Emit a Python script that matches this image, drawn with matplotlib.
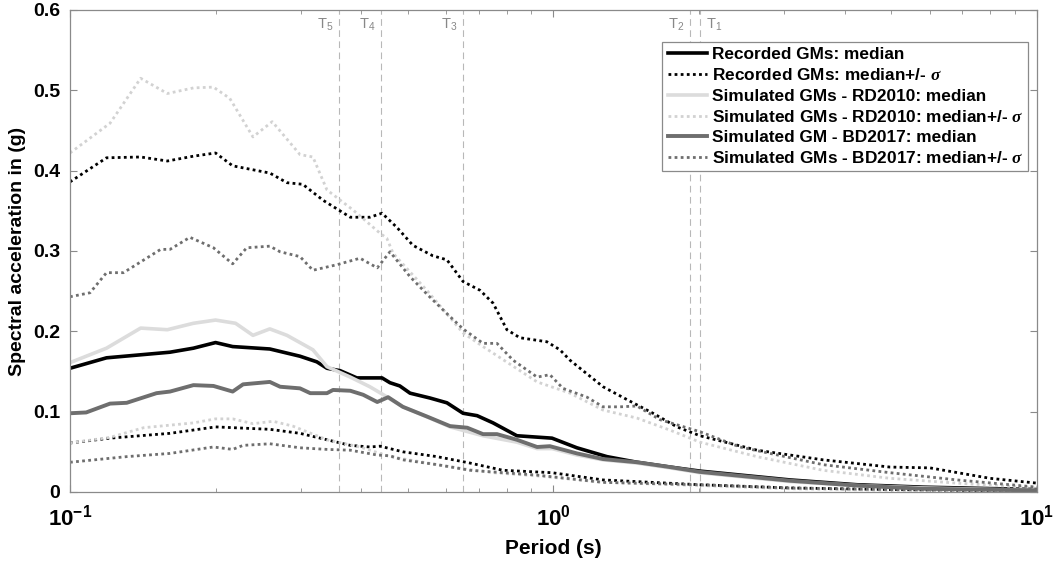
import numpy as np
import matplotlib
matplotlib.use("Agg")
import matplotlib.pyplot as plt
from matplotlib.ticker import FixedLocator, FuncFormatter, LogLocator, NullFormatter

plt.rcParams["font.family"] = ["Liberation Sans", "DejaVu Sans"]
plt.rcParams["font.weight"] = "bold"
plt.rcParams["mathtext.fontset"] = "custom"
plt.rcParams["mathtext.rm"] = "Liberation Sans"
plt.rcParams["mathtext.bf"] = "Liberation Sans:bold"
plt.rcParams["mathtext.it"] = "Liberation Serif:italic"

# recorded ground motions
rec_T = [0.100, 0.119, 0.161, 0.180, 0.200, 0.217, 0.259, 0.299, 0.324, 0.340, 0.362, 0.392,
         0.438, 0.442, 0.459, 0.481, 0.505, 0.555, 0.602, 0.650, 0.695, 0.750, 0.840, 0.993,
         1.118, 1.290, 1.488, 1.742, 2.009, 3.084, 4.244, 5.811, 10.0]
rec_med = [0.154, 0.167, 0.174, 0.179, 0.186, 0.181, 0.178, 0.169, 0.162, 0.154, 0.151, 0.142,
           0.142, 0.142, 0.136, 0.132, 0.123, 0.117, 0.111, 0.098, 0.095, 0.086, 0.070, 0.067,
           0.055, 0.044, 0.037, 0.031, 0.026, 0.015, 0.009, 0.006, 0.003]

rec_up_T = [0.100, 0.119, 0.140, 0.159, 0.180, 0.200, 0.217, 0.259, 0.281, 0.303, 0.334, 0.380,
            0.417, 0.442, 0.475, 0.512, 0.563, 0.602, 0.650, 0.705, 0.750, 0.801, 0.852, 0.969,
            1.031, 1.082, 1.266, 1.419, 1.606, 1.801, 2.009, 2.636, 3.610, 4.966, 6.008, 7.996, 10.0]
rec_up = [0.386, 0.416, 0.417, 0.412, 0.418, 0.422, 0.406, 0.397, 0.385, 0.383, 0.363, 0.342,
          0.342, 0.347, 0.329, 0.307, 0.294, 0.289, 0.262, 0.251, 0.235, 0.202, 0.192, 0.187,
          0.177, 0.164, 0.131, 0.115, 0.098, 0.081, 0.070, 0.052, 0.040, 0.031, 0.030, 0.017, 0.011]

rec_lo_T = [0.100, 0.121, 0.161, 0.200, 0.259, 0.299, 0.340, 0.380, 0.417, 0.438, 0.488, 0.574,
            0.672, 0.786, 0.993, 1.266, 2.009, 3.084, 5.0, 10.0]
rec_lo = [0.061, 0.067, 0.073, 0.081, 0.078, 0.073, 0.065, 0.058, 0.056, 0.057, 0.050, 0.044,
          0.036, 0.027, 0.024, 0.015, 0.009, 0.005, 0.003, 0.001]

# simulated, RD2010
rd_T = [0.100, 0.119, 0.140, 0.159, 0.180, 0.200, 0.220, 0.239, 0.259, 0.281, 0.318, 0.340,
        0.380, 0.417, 0.442, 0.488, 0.555, 0.611, 0.715, 0.840, 0.925, 0.993, 1.118, 1.266,
        1.488, 1.742, 2.009, 3.084, 4.244, 5.811, 10.0]
rd_med = [0.161, 0.179, 0.204, 0.202, 0.210, 0.214, 0.210, 0.195, 0.203, 0.195, 0.177, 0.156,
          0.143, 0.131, 0.122, 0.106, 0.092, 0.081, 0.070, 0.062, 0.054, 0.054, 0.046, 0.040,
          0.036, 0.030, 0.024, 0.013, 0.008, 0.005, 0.002]

rd_up_T = [0.100, 0.121, 0.140, 0.159, 0.180, 0.198, 0.214, 0.239, 0.262, 0.299, 0.318, 0.340,
           0.385, 0.438, 0.452, 0.466, 0.547, 0.650, 0.715, 0.925, 1.082, 1.266, 1.488, 1.742,
           2.009, 2.636, 3.610, 4.966, 6.833, 10.0]
rd_up = [0.422, 0.459, 0.515, 0.496, 0.503, 0.504, 0.490, 0.442, 0.461, 0.420, 0.417, 0.376,
         0.351, 0.322, 0.316, 0.297, 0.251, 0.198, 0.181, 0.137, 0.123, 0.102, 0.092, 0.077,
         0.062, 0.044, 0.027, 0.017, 0.011, 0.005]

rd_lo_T = [0.100, 0.121, 0.142, 0.180, 0.200, 0.217, 0.239, 0.263, 0.289, 0.340, 0.398, 0.459,
           0.550, 0.650, 0.750, 0.925, 1.266, 2.009, 3.084, 5.0, 10.0]
rd_lo = [0.061, 0.068, 0.080, 0.086, 0.091, 0.091, 0.085, 0.088, 0.082, 0.065, 0.056, 0.044,
         0.036, 0.029, 0.024, 0.020, 0.012, 0.008, 0.004, 0.002, 0.001]

# simulated, BD2017
bd_T = [0.100, 0.108, 0.121, 0.131, 0.151, 0.161, 0.180, 0.198, 0.217, 0.228, 0.259, 0.272,
        0.299, 0.314, 0.340, 0.350, 0.380, 0.404, 0.432, 0.455, 0.488, 0.547, 0.611, 0.663,
        0.715, 0.764, 0.840, 0.925, 0.983, 1.118, 1.266, 1.488, 1.742, 2.009, 3.084, 4.244,
        5.811, 10.0]
bd_med = [0.098, 0.099, 0.110, 0.111, 0.123, 0.125, 0.133, 0.132, 0.125, 0.134, 0.137, 0.131,
          0.129, 0.123, 0.123, 0.127, 0.126, 0.121, 0.112, 0.118, 0.106, 0.094, 0.082, 0.080,
          0.072, 0.072, 0.065, 0.056, 0.057, 0.048, 0.041, 0.037, 0.031, 0.025, 0.014, 0.008,
          0.004, 0.002]

bd_up_T = [0.100, 0.110, 0.119, 0.129, 0.154, 0.161, 0.177, 0.198, 0.217, 0.232, 0.259, 0.272,
           0.299, 0.318, 0.357, 0.398, 0.432, 0.459, 0.505, 0.550, 0.602, 0.650, 0.715, 0.764,
           0.825, 0.925, 0.983, 1.046, 1.173, 1.266, 1.372, 1.488, 1.661, 2.009, 2.430, 3.610,
           4.966, 6.833, 10.0]
bd_up = [0.243, 0.248, 0.273, 0.273, 0.302, 0.302, 0.317, 0.304, 0.284, 0.304, 0.306, 0.299,
         0.293, 0.276, 0.283, 0.291, 0.279, 0.299, 0.268, 0.245, 0.222, 0.203, 0.185, 0.185,
         0.164, 0.143, 0.146, 0.129, 0.118, 0.106, 0.106, 0.107, 0.090, 0.075, 0.056, 0.034,
         0.024, 0.015, 0.006]

bd_lo_T = [0.100, 0.131, 0.161, 0.198, 0.217, 0.228, 0.259, 0.299, 0.340, 0.380, 0.432, 0.459,
           0.488, 0.574, 0.672, 0.925, 1.266, 2.009, 3.084, 5.0, 10.0]
bd_lo = [0.037, 0.044, 0.048, 0.056, 0.053, 0.058, 0.060, 0.055, 0.053, 0.052, 0.046, 0.045,
         0.040, 0.034, 0.027, 0.021, 0.012, 0.009, 0.005, 0.003, 0.002]

# modal periods of the structure
mode_T = [2.009, 1.915, 0.650, 0.440, 0.360]
mode_names = ["T_1", "T_2", "T_3", "T_4", "T_5"]

dots = (0, (1, 1.2))
fig = plt.figure(figsize=(10.59, 5.64), dpi=100)
ax = fig.add_axes([0.0661, 0.1277, 0.9131, 0.8546])

for T, name in zip(mode_T, mode_names):
    ax.axvline(T, color="#b8b8b8", lw=0.8, ls=(0, (6, 4)), zorder=1)
    right_side = name == "T_1"
    ax.annotate(r"$\mathregular{%s}$" % name, xy=(T, 0.6), xycoords="data",
                xytext=(4 if right_side else -4, -5), textcoords="offset points",
                ha="left" if right_side else "right", va="top",
                color="#888888", fontsize=10.5, fontweight="normal")

ax.plot(rec_T, rec_med, color="black", lw=2.6, label="Recorded GMs: median")
ax.plot(rec_up_T, rec_up, color="black", lw=2.0, ls=dots,
        label=r"Recorded GMs: median+/- $\sigma$")
ax.plot(rec_lo_T, rec_lo, color="black", lw=2.0, ls=dots)
ax.plot(rd_T, rd_med, color="#dcdcdc", lw=2.6, label="Simulated GMs - RD2010: median")
ax.plot(rd_up_T, rd_up, color="#d2d2d2", lw=2.0, ls=dots,
        label=r"Simulated GMs - RD2010: median+/- $\sigma$")
ax.plot(rd_lo_T, rd_lo, color="#d2d2d2", lw=2.0, ls=dots)
ax.plot(bd_T, bd_med, color="#6e6e6e", lw=2.8, label="Simulated GM - BD2017: median")
ax.plot(bd_up_T, bd_up, color="#6e6e6e", lw=2.0, ls=dots,
        label=r"Simulated GMs - BD2017: median+/- $\sigma$")
ax.plot(bd_lo_T, bd_lo, color="#6e6e6e", lw=2.0, ls=dots)

ax.set_xscale("log")
ax.set_xlim(0.1, 10)
ax.set_ylim(0, 0.6)

ax.xaxis.set_major_locator(FixedLocator([0.1, 1, 10]))
ax.xaxis.set_major_formatter(FuncFormatter(
    lambda v, p: r"$\mathbf{10^{%d}}$" % round(np.log10(v))))
ax.xaxis.set_minor_locator(LogLocator(base=10, subs=np.arange(2, 10)))
ax.xaxis.set_minor_formatter(NullFormatter())
ax.set_yticks(np.arange(0, 0.61, 0.1))
ax.yaxis.set_major_formatter(FuncFormatter(lambda v, p: "%g" % round(v, 1)))

ax.tick_params(which="both", direction="in", top=True, right=True, color="#8a8a8a")
ax.tick_params(axis="y", labelsize=14, pad=7)
ax.tick_params(axis="x", labelsize=16, pad=9)
ax.tick_params(which="major", length=5)
ax.tick_params(which="minor", length=3)
for s in ax.spines.values():
    s.set_color("#8a8a8a")
    s.set_linewidth(0.9)

ax.set_xlabel("Period (s)", fontsize=15, fontweight="bold", labelpad=6)
ax.set_ylabel("Spectral acceleration in (g)", fontsize=14, fontweight="bold", labelpad=5)

leg = ax.legend(loc="upper right", bbox_to_anchor=(0.9907, 0.9336), borderaxespad=0,
                fontsize=12.4, handlelength=2.3, handletextpad=0.25, labelspacing=0.3,
                borderpad=0.3, fancybox=False, framealpha=1, edgecolor="#8a8a8a")
leg.get_frame().set_linewidth(0.9)

fig.savefig("out.png", dpi=100)
